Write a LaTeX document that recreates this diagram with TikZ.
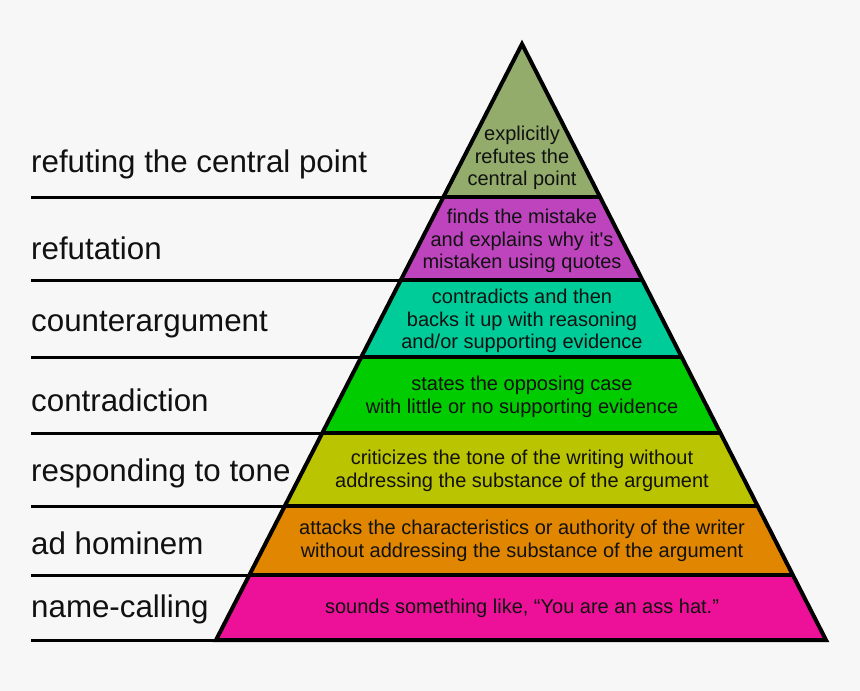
\documentclass[tikz,border=0pt]{standalone}
\usepackage{fontspec}
\setmainfont{Liberation Sans}[Ligatures=TeXOff]
\definecolor{bgc}{RGB}{247,247,247}
\definecolor{ink}{RGB}{17,17,17}
\definecolor{cA}{RGB}{147,172,108}
\definecolor{cB}{RGB}{190,68,190}
\definecolor{cC}{RGB}{0,204,153}
\definecolor{cD}{RGB}{0,204,0}
\definecolor{cE}{RGB}{187,196,0}
\definecolor{cF}{RGB}{224,134,0}
\definecolor{cG}{RGB}{237,17,153}
\tikzset{
  lab/.style={anchor=west, inner sep=0pt, text=ink, font=\fontsize{31.3}{36}\selectfont},
  txt/.style={align=center, inner sep=0pt, text=ink, font=\fontsize{20}{22.8}\selectfont},
  pinktxt/.style={align=center, inner sep=0pt, text=ink, font=\fontsize{20}{22.8}\selectfont},
  rule/.style={line width=3pt, draw=black},
  edge/.style={line width=4pt, draw=black, line join=miter}
}
\begin{document}
\begin{tikzpicture}[x=1pt,y=-1pt]
\fill[bgc] (0,0) rectangle (860,691);
\useasboundingbox (0,0) rectangle (860,691);
% boundary points
\coordinate (apex) at (522,44);
\coordinate (L1) at (443.4,197); \coordinate (R1) at (600.0,197);
\coordinate (L2) at (400.8,280); \coordinate (R2) at (642.4,280);
\coordinate (L3) at (361.3,357); \coordinate (R3) at (681.7,357);
\coordinate (L4) at (322.3,433); \coordinate (R4) at (720.4,433);
\coordinate (L5) at (284.8,506); \coordinate (R5) at (757.7,506);
\coordinate (L6) at (249.4,575); \coordinate (R6) at (792.8,575);
\coordinate (L7) at (216,640);   \coordinate (R7) at (826,640);
% band fills
\fill[cA] (apex) -- (R1) -- (L1) -- cycle;
\fill[cB] (L1) -- (R1) -- (R2) -- (L2) -- cycle;
\fill[cC] (L2) -- (R2) -- (R3) -- (L3) -- cycle;
\fill[cD] (L3) -- (R3) -- (R4) -- (L4) -- cycle;
\fill[cE] (L4) -- (R4) -- (R5) -- (L5) -- cycle;
\fill[cF] (L5) -- (R5) -- (R6) -- (L6) -- cycle;
\fill[cG] (L6) -- (R6) -- (R7) -- (L7) -- cycle;
% label rules
\coordinate (S1) at (31,197);
\coordinate (S2) at (31,280);
\coordinate (S3) at (31,357);
\coordinate (S4) at (31,433);
\coordinate (S5) at (31,506);
\coordinate (S6) at (31,575);
\coordinate (S7) at (31,640);
\draw[rule] (S1) -- (R1);
\draw[rule] (S2) -- (R2);
\draw[rule] (S3) -- (R3);
\draw[rule] (S4) -- (R4);
\draw[rule] (S5) -- (R5);
\draw[rule] (S6) -- (R6);
\draw[rule] (S7) -- (R7);
% band separators and outline
\draw[edge] (L1) -- (R1);
\draw[edge] (L2) -- (R2);
\draw[edge] (L3) -- (R3);
\draw[edge] (L4) -- (R4);
\draw[edge] (L5) -- (R5);
\draw[edge] (L6) -- (R6);
\draw[edge] (apex) -- (R7) -- (L7) -- cycle;
% left labels
\node[lab] (lab1) at (31,164) {refuting the central point};
\node[lab] (lab2) at (31,248) {refutation};
\node[lab] (lab3) at (31,325) {counterargument};
\node[lab] (lab4) at (31,400) {contradiction};
\node[lab] (lab5) at (31,473) {responding to tone};
\node[lab] (lab6) at (31,543) {ad hominem};
\node[lab] (lab7) at (31,609) {name-calling};
% pyramid texts
\node[txt] (txt1) at (522,158) {explicitly\\refutes the\\central point};
\node[txt] (txt2) at (522,241) {finds the mistake\\and explains why it's\\mistaken using quotes};
\node[txt] (txt3) at (522,321) {contradicts and then\\backs it up with reasoning\\and/or supporting evidence};
\node[txt] (txt4) at (522,397) {states the opposing case\\with little or no supporting evidence};
\node[txt] (txt5) at (522,471) {criticizes the tone of the writing without\\addressing the substance of the argument};
\node[txt] (txt6) at (522,541) {attacks the characteristics or authority of the writer\\without addressing the substance of the argument};
\node[pinktxt] (txt7) at (522,608) {sounds something like, “You are an ass hat.”};
\end{tikzpicture}
\end{document}
